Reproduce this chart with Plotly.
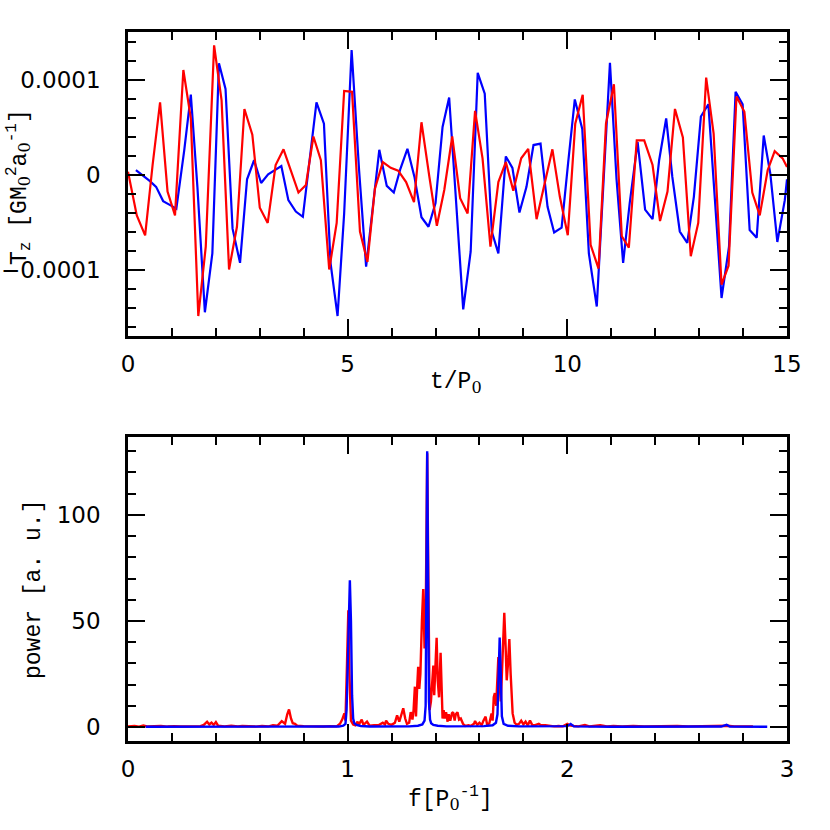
import plotly.graph_objects as go

# top panel: torque time series, values in units of 1e-5
RED_T = [0.0, 0.2, 0.39, 0.56, 0.73, 0.9, 1.07, 1.26, 1.43, 1.6, 1.77, 1.96, 2.13, 2.3, 2.48,
         2.65, 2.83, 3.0, 3.18, 3.36, 3.54, 3.7, 3.88, 4.05, 4.22, 4.39, 4.58, 4.75, 4.92, 5.1,
         5.28, 5.45, 5.62, 5.8, 5.98, 6.15, 6.33, 6.51, 6.68, 6.86, 7.03, 7.2, 7.38, 7.56, 7.73,
         7.9, 8.07, 8.25, 8.43, 8.6, 8.77, 8.95, 9.11, 9.3, 9.48, 9.66, 9.83, 10.01, 10.18, 10.35,
         10.53, 10.71, 10.88, 11.06, 11.24, 11.4, 11.58, 11.75, 11.94, 12.11, 12.28, 12.45, 12.63,
         12.81, 12.98, 13.16, 13.33, 13.51, 13.67, 13.85, 14.03, 14.21, 14.38, 14.56, 14.72, 14.9, 15.0]
RED_TZ = [0.3, -4.3, -6.4, 1.0, 7.6, -1.8, -4.3, 11.0, 5.9, -14.9, -7.6, 13.6, 7.8, -10.0, -5.5,
          6.9, 4.2, -3.5, -5.1, 1.0, 2.65, 0.6, -1.9, -1.1, 4.0, 1.5, -10.0, -5.1, 8.8, 8.7,
          -6.0, -9.2, -1.5, 1.3, 0.7, 0.4, -0.8, -2.9, 5.5, -0.25, -5.4, -1.6, 4.0, -2.5, -4.1,
          6.7, 1.7, -7.6, -0.8, 1.3, -1.7, 1.7, 2.7, -4.7, -0.9, 2.65, -2.35, -6.4, 5.35, 8.4,
          -7.4, -9.9, 5.35, 9.5, -6.5, -7.7, 3.6, 3.6, 1.0, -4.9, -1.8, 6.9, 3.9,
          -8.6, -5.1, 10.2, 4.3, -11.6, -9.6, 8.2, 6.6, -1.9, -4.3, 0.45, 2.45, 1.7, 0.8]

BLUE_T = [0.18, 0.36, 0.5, 0.64, 0.8, 0.95, 1.1, 1.28, 1.43, 1.58, 1.75, 1.92, 2.07, 2.22, 2.38,
          2.55, 2.71, 2.87, 3.03, 3.19, 3.34, 3.49, 3.65, 3.82, 3.98, 4.14, 4.29, 4.46, 4.61, 4.77,
          4.92, 5.09, 5.26, 5.42, 5.58, 5.72, 5.89, 6.05, 6.2, 6.36, 6.52, 6.68, 6.84, 7.0, 7.16,
          7.31, 7.47, 7.63, 7.8, 7.96, 8.12, 8.28, 8.43, 8.6, 8.75, 8.91, 9.07, 9.23, 9.39, 9.55,
          9.7, 9.87, 10.02, 10.17, 10.34, 10.49, 10.67, 10.82, 10.97, 11.12, 11.27, 11.42, 11.6,
          11.77, 11.94, 12.09, 12.25, 12.39, 12.56, 12.73, 12.88, 13.04, 13.21, 13.36, 13.51, 13.68,
          13.83, 13.99, 14.15, 14.31, 14.47, 14.62, 14.78, 14.95, 15.0]
BLUE_TZ = [0.45, -0.15, -0.7, -1.3, -2.8, -3.2, -3.6, 2.55, 8.4, -1.3, -14.5, -8.3, 11.7, 9.0, -5.7,
           -9.3, -0.5, 1.5, -0.9, 0.03, 0.5, 0.9, -2.7, -3.9, -4.45, 1.5, 7.6, 5.35, -9.3, -14.9,
           -4.1, 13.1, 0.45, -9.7, -3.4, 2.6, -1.2, -1.9, 0.6, 2.7, -0.25, -4.5, -5.5, -3.0, 5.0,
           8.1, -3.0, -14.2, -8.1, 10.7, 8.5, -6.0, -8.3, 1.9, 0.7, -4.0, -1.3, 3.1, 3.25, -3.4,
           -6.1, -5.6, 1.3, 7.9, 4.8, -8.3, -13.9, -1.1, 11.75, -0.5, -9.3, -3.0, 3.4,
           -3.7, -4.7, 1.5, 5.9, -0.25, -6.0, -7.2, -2.35, 6.1, 7.4, -2.7, -13.0, -7.6,
           8.7, 7.4, -5.85, -6.65, 4.1, 0.1, -7.1, -2.7, -0.5]

# bottom panel: power spectra
RED_F = [0.0, 0.03, 0.05, 0.07, 0.09, 0.12, 0.15, 0.18, 0.21, 0.24, 0.27, 0.3, 0.33, 0.345, 0.36,
         0.37, 0.38, 0.39, 0.4, 0.41, 0.44, 0.47, 0.5, 0.52, 0.55, 0.58, 0.61, 0.64, 0.66, 0.68,
         0.7, 0.715, 0.725, 0.733, 0.742, 0.75, 0.76, 0.77, 0.8, 0.83, 0.86, 0.89, 0.92, 0.95,
         0.965, 0.975, 0.985, 0.99, 0.997, 1.003, 1.008, 1.015, 1.025, 1.035, 1.045, 1.05, 1.064,
         1.072, 1.088, 1.1, 1.12, 1.14, 1.16, 1.17, 1.175, 1.185, 1.2, 1.215, 1.225, 1.235, 1.245,
         1.253, 1.262, 1.27, 1.28, 1.287, 1.295, 1.3, 1.306, 1.311, 1.317, 1.321, 1.326, 1.331,
         1.338, 1.344, 1.35, 1.356, 1.362, 1.368, 1.373, 1.379, 1.385, 1.39, 1.394, 1.399, 1.405,
         1.41, 1.416, 1.423, 1.428, 1.432, 1.437, 1.442, 1.448, 1.455, 1.46, 1.467, 1.475, 1.48,
         1.487, 1.492, 1.5, 1.507, 1.515, 1.525, 1.535, 1.55, 1.56, 1.575, 1.58, 1.59, 1.6, 1.61,
         1.618, 1.628, 1.635, 1.645, 1.655, 1.66, 1.665, 1.67, 1.676, 1.681, 1.686, 1.692, 1.697,
         1.701, 1.707, 1.713, 1.719, 1.724, 1.73, 1.736, 1.742, 1.751, 1.76, 1.77, 1.78, 1.79,
         1.8, 1.81, 1.82, 1.83, 1.84, 1.85, 1.87, 1.88, 1.9, 1.92, 1.94, 1.96, 1.98, 2.0, 2.01,
         2.03, 2.05, 2.08, 2.1, 2.12, 2.15, 2.18, 2.21, 2.25, 2.3, 2.35, 2.4, 2.45, 2.5, 2.55,
         2.6, 2.65, 2.7, 2.73, 2.76, 2.8, 2.845]
RED_P = [0.3, 0.5, 0.2, 0.7, 0.2, 0.3, 0.5, 0.2, 0.4, 0.2, 0.3, 0.5, 0.4, 1.0, 2.5,
         1.2, 2.1, 1.0, 2.3, 0.6, 0.3, 0.6, 0.3, 0.5, 0.4, 0.2, 0.5, 0.3, 0.8, 0.6,
         2.8, 1.5, 6.0, 8.3, 4.0, 1.8, 1.5, 0.6, 0.4, 0.3, 0.3, 0.2, 0.4, 0.3,
         1.5, 3.5, 6.4, 3.0, 30.0, 55.0, 25.0, 3.0, 1.2, 0.8, 2.5, 1.0, 3.5,
         1.0, 2.5, 0.6, 0.8, 0.8, 2.0, 1.2, 3.0, 1.5, 1.0, 2.0, 5.5, 2.5, 6.0,
         8.8, 4.0, 1.5, 2.0, 7.0, 3.5, 8.0, 19.0, 5.0, 20.0, 28.4, 18.0, 25.0,
         50.0, 65.0, 37.0, 60.0, 129.0, 60.0, 8.0, 12.0, 22.0, 29.0, 15.0, 25.0, 42.0,
         22.0, 14.0, 35.0, 16.0, 4.0, 8.0, 4.0, 7.0, 2.5, 6.0, 3.0, 6.5, 7.0,
         3.0, 6.0, 7.0, 3.5, 4.0, 1.5, 0.5, 0.8, 0.5, 1.5, 2.8, 1.0, 2.0, 0.8,
         3.0, 4.9, 1.0, 1.8, 6.4, 3.0, 14.0, 16.0, 10.0, 24.0, 33.0, 20.0, 12.0,
         22.0, 40.0, 53.8, 38.0, 22.0, 30.0, 41.5, 25.0, 6.4, 2.0, 1.0, 1.5, 3.0,
         1.2, 2.5, 0.8, 3.0, 1.0, 0.8, 1.5, 0.8, 0.8, 0.6, 0.3, 0.5, 0.3, 1.5, 0.8,
         0.5, 0.3, 1.0, 0.3, 0.5, 0.8, 0.3, 0.5, 0.3, 0.5, 0.3, 0.4, 0.3, 0.5, 0.3,
         0.4, 0.3, 0.3, 0.6, 0.3, 0.3, 0.3]

BLUE_F = [0.08, 0.3, 0.5, 0.7, 0.9, 0.96, 0.98, 0.99, 0.995, 1.0, 1.005, 1.01, 1.015, 1.02, 1.025,
          1.03, 1.04, 1.06, 1.1, 1.2, 1.28, 1.32, 1.34, 1.35, 1.355, 1.358, 1.362, 1.366, 1.37,
          1.375, 1.38, 1.39, 1.41, 1.45, 1.55, 1.62, 1.66, 1.675, 1.682, 1.687, 1.692, 1.697,
          1.702, 1.71, 1.73, 1.78, 1.9, 2.0, 2.015, 2.03, 2.2, 2.5, 2.7, 2.725, 2.74, 2.91]
BLUE_P = [0.1, 0.1, 0.1, 0.1, 0.1, 0.2, 0.6, 1.5, 8.0, 30.0, 55.0, 69.2, 50.0, 15.0, 4.0,
          1.8, 1.0, 0.5, 0.2, 0.2, 0.3, 0.6, 1.2, 3.0, 10.0, 60.0, 130.0, 70.0, 12.0,
          3.5, 1.8, 1.0, 0.6, 0.3, 0.3, 0.4, 0.8, 2.0, 6.0, 25.0, 42.2, 25.0,
          5.0, 1.5, 0.6, 0.3, 0.2, 0.4, 1.4, 0.3, 0.1, 0.1, 0.2, 1.0, 0.2, 0.1]

TOP_YTICKS = [-0.0001, 0, 0.0001]
TOP_YTICKTEXT = ["\u22120.0001", "0", "0.0001"]

RED = "#ff0000"
BLUE = "#0000ff"
TICK_FONT = dict(family="DejaVu Sans", size=23, color="black")
TITLE_FONT = dict(family="Liberation Mono", size=23, color="black")
ZERO = '<span style="font-family:DejaVu Serif">0</span>'

fig = go.Figure()
fig.add_trace(go.Scatter(x=BLUE_T, y=[v * 1e-5 for v in BLUE_TZ], mode="lines",
                         line=dict(color=BLUE, width=2.2), xaxis="x", yaxis="y"))
fig.add_trace(go.Scatter(x=RED_T, y=[v * 1e-5 for v in RED_TZ], mode="lines",
                         line=dict(color=RED, width=2.2), xaxis="x", yaxis="y"))
fig.add_trace(go.Scatter(x=RED_F, y=RED_P, mode="lines",
                         line=dict(color=RED, width=2.4), xaxis="x2", yaxis="y2"))
fig.add_trace(go.Scatter(x=BLUE_F, y=BLUE_P, mode="lines",
                         line=dict(color=BLUE, width=2.4), xaxis="x2", yaxis="y2"))

axis_common = dict(
    showline=True, linecolor="black", linewidth=2.5, mirror="allticks",
    ticks="inside", ticklen=17, tickwidth=2, tickcolor="black",
    showgrid=False, zeroline=False, tickfont=TICK_FONT,
)
x_dom = [128 / 830, 787 / 830]
fig.update_layout(
    width=830, height=830, showlegend=False,
    paper_bgcolor="white", plot_bgcolor="white",
    margin=dict(l=0, r=0, t=0, b=0, autoexpand=False),
    xaxis=dict(domain=x_dom, anchor="y", range=[0, 15], tickvals=[0, 5, 10, 15],
               minor=dict(dtick=1, ticks="inside", ticklen=8, tickwidth=2, tickcolor="black"),
               ticklabelstandoff=6, **axis_common),
    yaxis=dict(domain=[494 / 830, 798 / 830], anchor="x", range=[-0.00017, 0.00015],
               tickvals=TOP_YTICKS, ticktext=TOP_YTICKTEXT,
               minor=dict(dtick=0.00002, ticks="inside", ticklen=8, tickwidth=2, tickcolor="black"),
               ticklabelstandoff=20, **axis_common),
    xaxis2=dict(domain=x_dom, anchor="y2", range=[0, 3], tickvals=[0, 1, 2, 3],
                minor=dict(dtick=0.2, ticks="inside", ticklen=8, tickwidth=2, tickcolor="black"),
                ticklabelstandoff=6, **axis_common),
    yaxis2=dict(domain=[89 / 830, 393 / 830], anchor="x2", range=[-6.6, 136.7],
                tickvals=[0, 50, 100],
                minor=dict(dtick=10, ticks="inside", ticklen=8, tickwidth=2, tickcolor="black"),
                ticklabelstandoff=20, **axis_common),
)

labels = [
    (f"t/P<sub>{ZERO}</sub>", 456 / 830, 1 - 383 / 830, 0),
    (f"f[P<sub>{ZERO}</sub><sup>-1</sup>]", 450 / 830, 1 - 798 / 830, 0),
    (f"T<sub>z</sub> [GM<sub>{ZERO}</sub><sup>2</sup>a<sub>{ZERO}</sub><sup>-1</sup>]", 19 / 830, 1 - 187 / 830, -90),
    ("power [a. u.]", 34 / 830, 1 - 590 / 830, -90),
]
for text, x, y, angle in labels:
    fig.add_annotation(text=text, x=x, y=y, xref="paper", yref="paper",
                       xanchor="center", yanchor="middle", showarrow=False,
                       textangle=angle, font=TITLE_FONT)

fig.write_html("out.html", config={"displayModeBar": False},
               post_script="document.body.style.margin='0';")
